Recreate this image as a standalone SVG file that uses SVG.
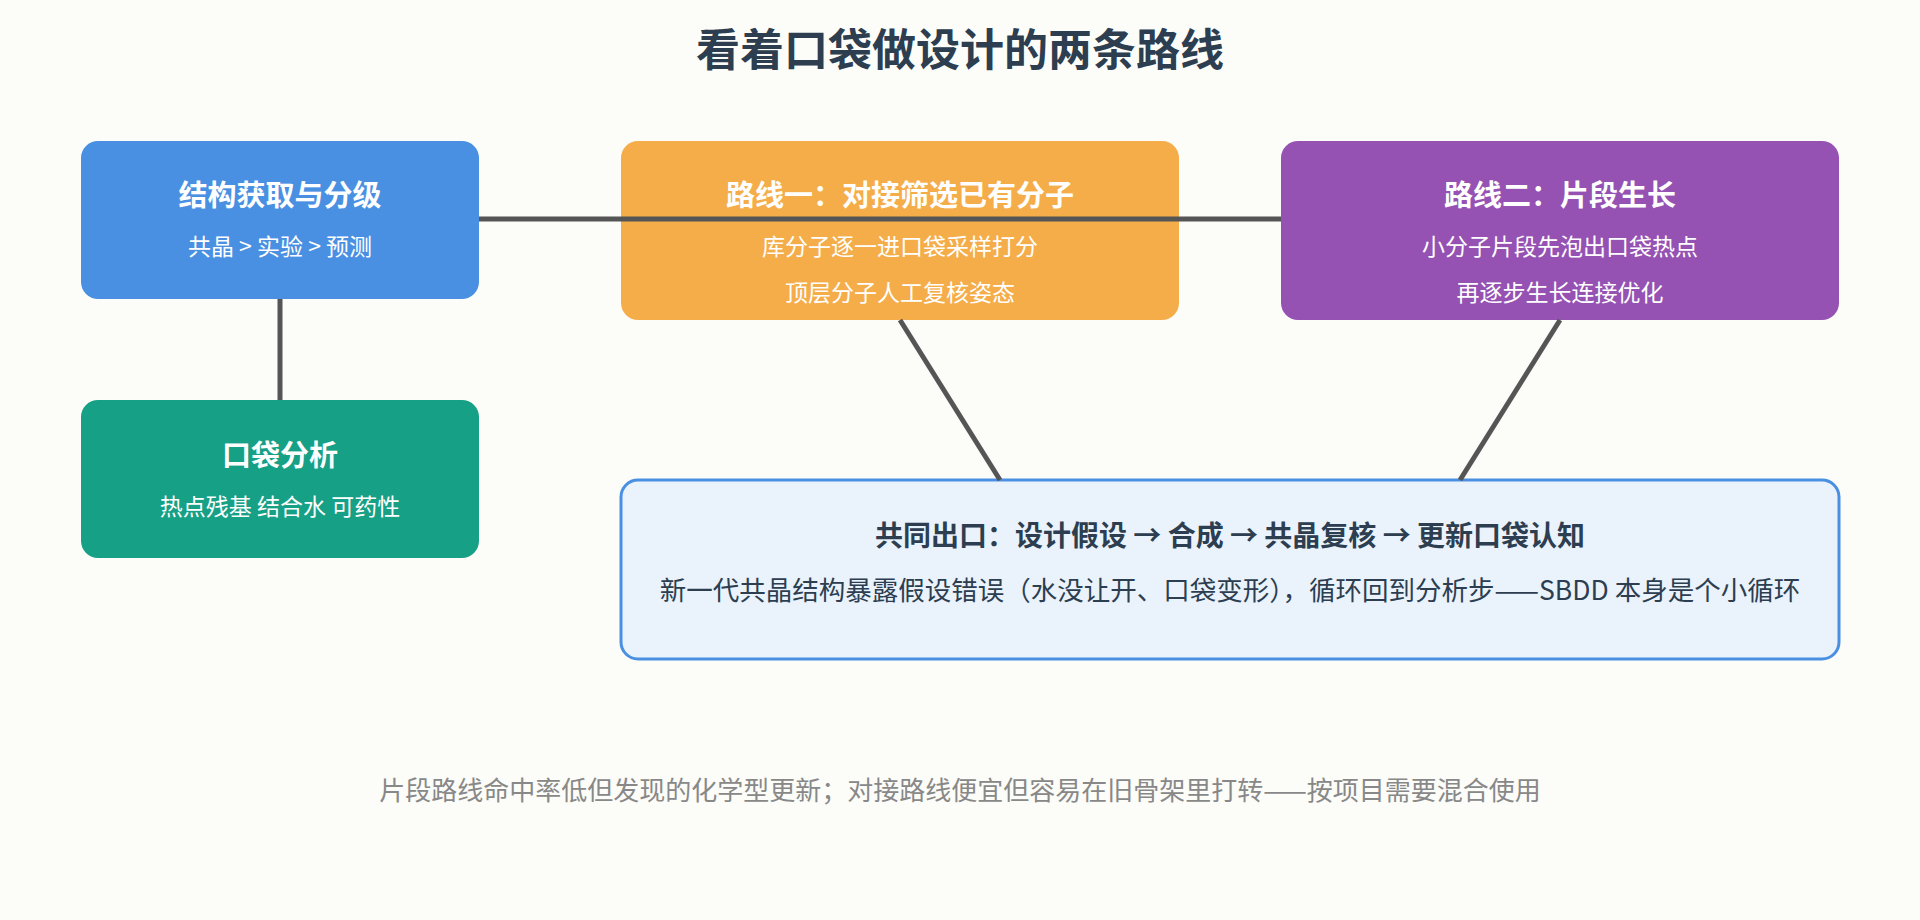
<svg xmlns="http://www.w3.org/2000/svg" width="1920" height="920" viewBox="0 0 1920 920">
<style>
text{font-family:"Noto Sans CJK SC","Noto Sans",sans-serif;text-anchor:middle}
.t{font-size:29px;font-weight:bold;fill:#fff}
.s{font-size:23px;fill:#fff}
.c{stroke:#555;stroke-width:5;fill:none}
</style>
<rect width="1920" height="920" fill="#FCFCF8"/>
<text x="960" y="66" style="font-size:44px;font-weight:bold;fill:#2C3E50">看着口袋做设计的两条路线</text>
<g id="n1"><rect x="81" y="141" width="398" height="158" rx="17" fill="#4A90E2"/>
<text class="t" x="280" y="206">结构获取与分级</text><text class="s" x="280" y="255">共晶 &gt; 实验 &gt; 预测</text></g>
<g id="n2"><rect x="621" y="141" width="558" height="179" rx="17" fill="#F5AD4A"/>
<text class="t" x="900" y="206">路线一：对接筛选已有分子</text><text class="s" x="900" y="255">库分子逐一进口袋采样打分</text><text class="s" x="900" y="301">顶层分子人工复核姿态</text></g>
<g id="n3"><rect x="1281" y="141" width="558" height="179" rx="17" fill="#9552B3"/>
<text class="t" x="1560" y="206">路线二：片段生长</text><text class="s" x="1560" y="255">小分子片段先泡出口袋热点</text><text class="s" x="1560" y="301">再逐步生长连接优化</text></g>
<g id="n4"><rect x="81" y="400" width="398" height="158" rx="17" fill="#16A085"/>
<text class="t" x="280" y="466">口袋分析</text><text class="s" x="280" y="515">热点残基 结合水 可药性</text></g>
<g id="n5"><rect x="621" y="480" width="1218" height="179" rx="17" fill="#EAF2FC" stroke="#4A90E2" stroke-width="3"/>
<text x="1230" y="546" style="font-size:28px;font-weight:bold;fill:#2C3E50">共同出口：设计假设 → 合成 → 共晶复核 → 更新口袋认知</text>
<text x="1230" y="600" style="font-size:26.5px;fill:#2C3E50">新一代共晶结构暴露假设错误（水没让开、口袋变形），循环回到分析步——SBDD 本身是个小循环</text></g>
<g id="connectors">
<line class="c" x1="479" y1="219" x2="1281" y2="219"/>
<line class="c" x1="280" y1="299" x2="280" y2="400"/>
<line class="c" x1="900" y1="320" x2="1000" y2="480"/>
<line class="c" x1="1560" y1="320" x2="1460" y2="480"/>
</g>
<text x="960" y="800" style="font-size:26px;fill:#888">片段路线命中率低但发现的化学型更新；对接路线便宜但容易在旧骨架里打转——按项目需要混合使用</text>
</svg>
